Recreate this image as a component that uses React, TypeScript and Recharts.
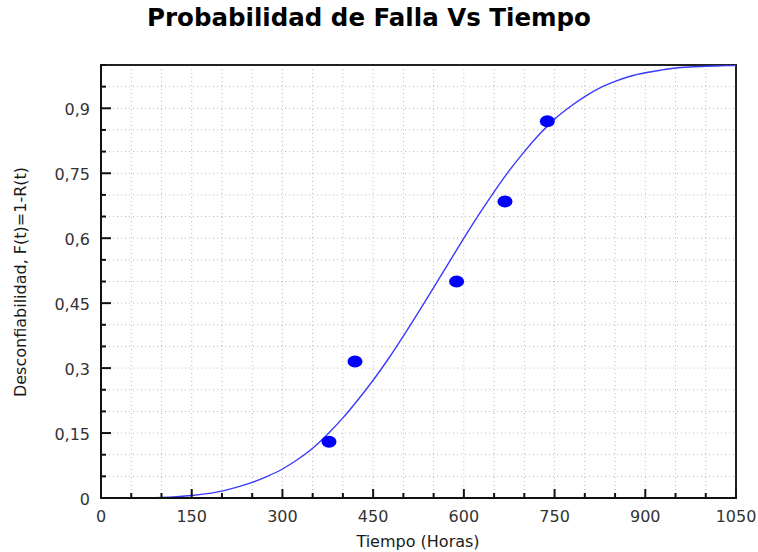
import React from 'react';
import { ComposedChart, Line, Scatter, XAxis, YAxis, CartesianGrid, ReferenceArea } from 'recharts';

// Fitted curve F(t), every 25 hours
const curveTimes = [0, 25, 50, 75, 100, 125, 150, 175, 200, 225, 250, 275, 300, 325, 350, 375, 400, 425, 450, 475, 500, 525, 550, 575, 600, 625, 650, 675, 700, 725, 750, 775, 800, 825, 850, 875, 900, 925, 950, 975, 1000, 1025, 1050];
const curveValues = [0, 0, 0.0001, 0.0005, 0.0013, 0.003, 0.0057, 0.01, 0.016, 0.025, 0.036, 0.05, 0.067, 0.089, 0.115, 0.148, 0.185, 0.227, 0.272, 0.321, 0.374, 0.429, 0.486, 0.543, 0.6, 0.655, 0.707, 0.756, 0.8, 0.84, 0.875, 0.903, 0.927, 0.947, 0.962, 0.974, 0.982, 0.988, 0.993, 0.9955, 0.997, 0.998, 0.999];

// Observed failure points (median ranks)
const pointTimes = [377, 420, 588, 668, 738];
const pointValues = [0.13, 0.315, 0.5, 0.685, 0.87];

// Axis ticks
const xTicks = [0, 50, 100, 150, 200, 250, 300, 350, 400, 450, 500, 550, 600, 650, 700, 750, 800, 850, 900, 950, 1000, 1050];
const xLabelTicks = [0, 150, 300, 450, 600, 750, 900, 1050];
const yTicks = [0, 0.05, 0.1, 0.15, 0.2, 0.25, 0.3, 0.35, 0.4, 0.45, 0.5, 0.55, 0.6, 0.65, 0.7, 0.75, 0.8, 0.85, 0.9, 0.95, 1];
const yLabelTicks = [0, 0.15, 0.3, 0.45, 0.6, 0.75, 0.9];

const curveData = curveTimes.map((t, i) => ({ x: t, y: curveValues[i] }));
const pointData = pointTimes.map((t, i) => ({ x: t, y: pointValues[i] }));

const isIn = (arr: number[], v: number) => arr.some((t) => Math.abs(t - v) < 1e-6);
const fmt = (v: number) => String(Math.round(v * 100) / 100).replace('.', ',');

const FONT = '"DejaVu Sans", Verdana, sans-serif';

const XTick = (props: any) => {
  const { x, y, payload } = props;
  const v = payload.value;
  const major = isIn(xLabelTicks, v);
  return (
    <g>
      <line x1={x} x2={x} y1={y} y2={y - (major ? 9 : 5)} stroke="#111" strokeWidth={2} />
      {major && (
        <text x={x} y={y + 18} textAnchor="middle" dominantBaseline="central" fontSize={16} fontFamily={FONT} fill="#333">
          {fmt(v)}
        </text>
      )}
    </g>
  );
};

const YTick = (props: any) => {
  const { x, y, payload } = props;
  const v = payload.value;
  const major = isIn(yLabelTicks, v);
  return (
    <g>
      <line x1={x} x2={x + (major ? 10 : 5)} y1={y} y2={y} stroke="#111" strokeWidth={2} />
      {major && (
        <text x={x - 11} y={y + 1} textAnchor="end" dominantBaseline="central" fontSize={16} fontFamily={FONT} fill="#333">
          {fmt(v)}
        </text>
      )}
    </g>
  );
};

const Dot = (p: any) => <ellipse cx={p.cx} cy={p.cy} rx={7.5} ry={6} fill="#0000ff" />;

export default function App() {
  return (
    <div style={{ position: 'absolute', left: 0, top: 0, width: 758, height: 552, background: '#fff', fontFamily: FONT }}>
      <div style={{ position: 'absolute', left: 0, top: 0, width: 738, textAlign: 'center', fontSize: 24.5, fontWeight: 'bold', lineHeight: '36px', color: '#000', whiteSpace: 'nowrap' }}>
        Probabilidad de Falla Vs Tiempo
      </div>
      <ComposedChart width={758} height={552} margin={{ top: 65, right: 22, bottom: 0, left: 0 }}>
        <CartesianGrid stroke="#bcbcbc" strokeDasharray="1 3" />
        <XAxis
          type="number"
          dataKey="x"
          domain={[0, 1050]}
          ticks={xTicks}
          interval={0}
          height={54}
          tickSize={0}
          tickMargin={0}
          tickLine={false}
          axisLine={{ stroke: '#111', strokeWidth: 2 }}
          tick={<XTick />}
          allowDataOverflow
        />
        <YAxis
          type="number"
          dataKey="y"
          domain={[0, 1]}
          ticks={yTicks}
          interval={0}
          width={101}
          tickSize={0}
          tickMargin={0}
          tickLine={false}
          axisLine={{ stroke: '#111', strokeWidth: 2 }}
          tick={<YTick />}
          allowDataOverflow
        />
        <ReferenceArea x1={0} x2={1050} y1={0} y2={1} fill="none" stroke="#222" strokeWidth={2} />
        <Line data={curveData} dataKey="y" type="monotone" stroke="#3a3aff" strokeWidth={1.4} dot={false} isAnimationActive={false} />
        <Scatter data={pointData} dataKey="y" shape={<Dot />} isAnimationActive={false} />
      </ComposedChart>
      <div style={{ position: 'absolute', left: 0, top: 530, width: 836, textAlign: 'center', fontSize: 16, lineHeight: '24px', color: '#1a1a1a' }}>
        Tiempo (Horas)
      </div>
      <div style={{ position: 'absolute', left: 21, top: 282, transform: 'translate(-50%, -50%) rotate(-90deg)', whiteSpace: 'nowrap', fontSize: 16, lineHeight: '20px', color: '#1a1a1a' }}>
        Desconfiabilidad, F(t)=1-R(t)
      </div>
    </div>
  );
}
